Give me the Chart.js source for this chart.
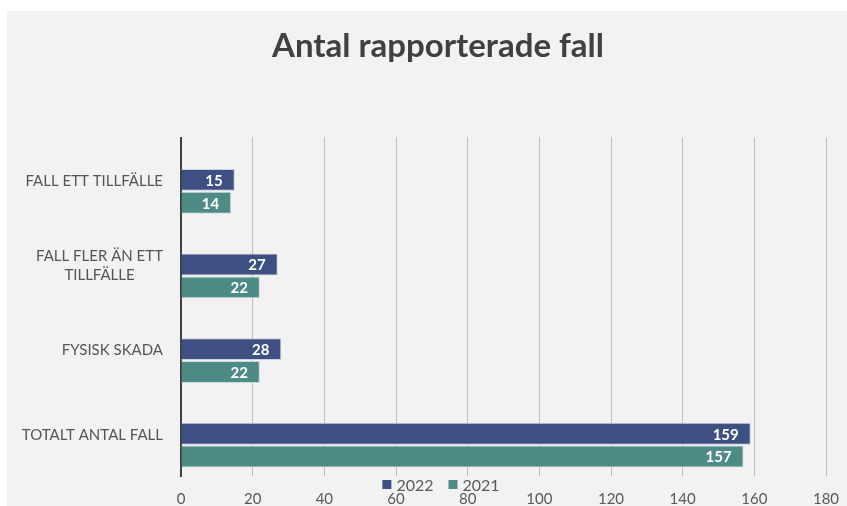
<!DOCTYPE html>
<html><head><meta charset="utf-8">
<script src="https://cdn.jsdelivr.net/npm/chart.js@4"></script>
<style>
html,body{margin:0;padding:0;background:#fff;overflow:hidden;width:847px;height:506px}
#wrap{position:absolute;left:7px;top:11px;width:840px;height:495px;background:#f2f2f2}
</style></head><body>
<div id="wrap"><canvas id="c"></canvas></div>
<script>
const categories = [['FALL ETT TILLFÄLLE'], ['FALL FLER ÄN ETT', 'TILLFÄLLE'], ['FYSISK SKADA'], ['TOTALT ANTAL FALL']];
const seriesNames = ['2022', '2021'];
const values2022 = [15, 27, 28, 159];
const values2021 = [14, 22, 22, 157];
const emptySeries = [null, null, null, null];
const xMin = 0, xMax = 180, xStep = 20;

const catLabels = {
  id: 'catLabels',
  afterDraw(chart) {
    const s = chart.scales.y, ctx = chart.ctx;
    ctx.save();
    ctx.font = '15px Lato'; ctx.fillStyle = '#555555';
    ctx.textAlign = 'center'; ctx.textBaseline = 'middle';
    const right = chart.chartArea.left - 18;
    chart.data.labels.forEach((lab, i) => {
      const lines = Array.isArray(lab) ? lab : [lab];
      const w = Math.max(...lines.map(l => ctx.measureText(l).width));
      const cy = s.getPixelForTick(i), lh = 19;
      lines.forEach((l, j) => ctx.fillText(l, right - w / 2, cy + (j - (lines.length - 1) / 2) * lh + 1));
    });
    ctx.restore();
  }
};

const barLabels = {
  id: 'barLabels',
  afterDatasetsDraw(chart) {
    const ctx = chart.ctx;
    ctx.save();
    ctx.font = 'bold 15px Lato'; ctx.fillStyle = '#ffffff';
    ctx.textAlign = 'right'; ctx.textBaseline = 'middle';
    chart.data.datasets.forEach((ds, di) => {
      if (!ds.label) return;
      chart.getDatasetMeta(di).data.forEach((bar, i) => {
        const v = ds.data[i];
        if (v == null) return;
        ctx.fillText(String(v), bar.x - 12, bar.y + 1);
      });
    });
    ctx.restore();
  }
};

const bottomLegend = {
  id: 'bottomLegend',
  afterDraw(chart) {
    const ctx = chart.ctx, ca = chart.chartArea;
    const items = chart.data.datasets.filter(d => d.label);
    ctx.save();
    ctx.font = '16px Lato'; ctx.textBaseline = 'middle'; ctx.textAlign = 'left';
    const box = 9, gapT = 5, gapI = 15;
    let total = 0;
    items.forEach((d, i) => { total += box + gapT + ctx.measureText(d.label).width + (i < items.length - 1 ? gapI : 0); });
    const tb = chart.titleBlock;
    const cx = (tb.left + tb.right) / 2 + 3;
    let x = cx - total / 2;
    const y = ca.bottom + 8.5;
    items.forEach(d => {
      ctx.fillStyle = d.backgroundColor;
      ctx.fillRect(x, y - box / 2, box, box);
      x += box + gapT;
      ctx.fillStyle = '#595959';
      ctx.fillText(d.label, x, y + 1);
      x += ctx.measureText(d.label).width + gapI;
    });
    ctx.restore();
  }
};

new Chart(document.getElementById('c'), {
  type: 'bar',
  data: {
    labels: categories,
    datasets: [
      { label: '', data: emptySeries, backgroundColor: 'rgba(0,0,0,0)' },
      { label: seriesNames[0], data: values2022, backgroundColor: '#3e4f82', borderColor: '#c9d1e4', borderWidth: 1 },
      { label: seriesNames[1], data: values2021, backgroundColor: '#4f8b86', borderColor: '#c9dcda', borderWidth: 1 }
    ]
  },
  options: {
    indexAxis: 'y',
    responsive: true,
    maintainAspectRatio: false,
    animation: false,
    devicePixelRatio: 1,
    datasets: { bar: { categoryPercentage: 0.81, barPercentage: 0.96 } },
    layout: { padding: { left: 43, right: 21, top: 0, bottom: 0 } },
    scales: {
      x: {
        min: xMin, max: xMax,
        ticks: { stepSize: xStep, color: '#595959', font: { family: 'Lato', size: 15 }, padding: 14, maxRotation: 0 },
        grid: { color: '#bfbfbf', lineWidth: 1, drawTicks: false },
        border: { display: false },
        afterFit(s) { s.height = 30; s.paddingRight = 0; s.paddingLeft = 0; }
      },
      y: {
        ticks: { display: false },
        grid: { display: false, drawTicks: false },
        border: { display: true, color: '#404040', width: 2 },
        afterFit(s) { s.width = 131; }
      }
    },
    plugins: {
      legend: { display: false },
      tooltip: { enabled: false },
      title: {
        display: true,
        text: 'Antal rapporterade fall',
        color: '#404040',
        font: { family: 'Lato', size: 33, weight: 'bold' },
        padding: { top: 16, bottom: 71 }
      }
    }
  },
  plugins: [catLabels, barLabels, bottomLegend]
});
</script>
</body></html>
